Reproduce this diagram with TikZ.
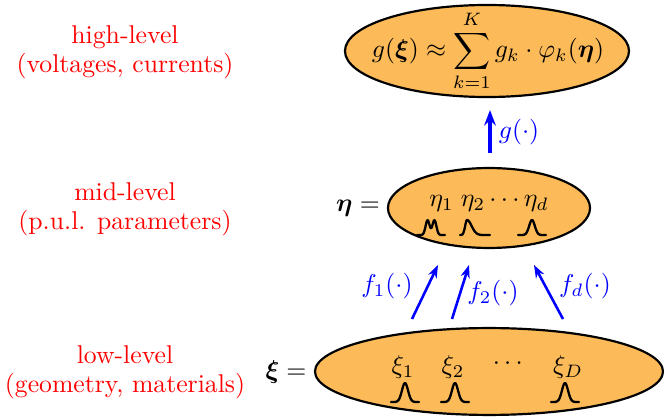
\documentclass[tikz,border=0pt]{standalone}
\usepackage{amsmath,amssymb,bm}
\usetikzlibrary{shapes.geometric,arrows.meta}
\definecolor{boxorange}{RGB}{252,186,88}
\tikzset{
  blob/.style={ellipse, draw=black, line width=0.85pt, fill=boxorange, inner sep=0pt},
  lvl/.style={text=red, align=center},
  fun/.style={draw=blue, line width=1pt, -{Stealth[length=5pt,width=3.6pt]}},
  funbig/.style={draw=blue, line width=1.7pt, -{Stealth[length=6pt,width=4.5pt]}},
  funlbl/.style={text=blue},
  bump/.style={line width=0.9pt, line join=round, line cap=round}
}
\begin{document}
\begin{tikzpicture}[x=0.389pt,y=-0.389pt,font=\fontsize{10pt}{11.3pt}\selectfont]
\useasboundingbox (0,0) rectangle (664,417);

% ellipses
\node[blob, minimum width=110.5pt, minimum height=35.8pt] (top) at (487,51) {};
\node[blob, minimum width=78.6pt, minimum height=31.1pt] (mid) at (489,208) {};
\node[blob, minimum width=135.4pt, minimum height=33.8pt] (low) at (489,371.5) {};

% formula
\node (formula) at (488,51) {$\displaystyle g(\bm{\xi}) \approx \sum_{k=1}^{K} g_k \cdot \varphi_k(\bm{\eta})$};

% mid contents
\node (etaeq) at (358,208) {$\bm{\eta} =$};
\node (etas) at (489,203) {$\eta_1\;\eta_2 \cdots \eta_d$};

% low contents
\node (xieq) at (286,372) {$\bm{\xi} =$};
\node (xi1) at (403,367) {$\xi_1$};
\node (xi2) at (453,367) {$\xi_2$};
\node (xidots) at (510,364) {$\cdots$};
\node (xiD) at (568,367) {$\xi_D$};

% bumps low
\foreach \cx in {405,455,565}{
  \draw[bump] plot[domain=-14:14, samples=45] ({\cx+\x},{402-19*exp(-(\x/4.3)^2)});
}
% bumps mid
\draw[bump] plot[domain=-14:14, samples=55] ({431+\x},{235-15*(exp(-((\x+3.4)/2.8)^2)+exp(-((\x-3.4)/2.8)^2))/1.01});
\draw[bump] plot[domain=-15:-8, samples=20] ({475+\x},{235-15*exp(-((\x+8)/2.6)^2)})
  -- plot[domain=-8:15, samples=40] ({475+\x},{235-15*exp(-((\x+8)/6.5)^2)});
\draw[bump] plot[domain=-14:14, samples=45] ({532+\x},{235-15*exp(-(\x/4)^2)});

% red level labels
\node[lvl] (hl) at (125,52) {high-level\\(voltages, currents)};
\node[lvl] (ml) at (125,209) {mid-level\\(p.u.l. parameters)};
\node[lvl] (ll) at (125,372) {low-level\\(geometry, materials)};

% arrows
\coordinate (g0) at (490,153);
\coordinate (g1) at (490,110);
\draw[funbig] (g0) -- (g1);
\node[funlbl] (glbl) at (519,132) {$g(\cdot)$};

\coordinate (f1a) at (412,319); \coordinate (f1b) at (438,265);
\coordinate (f2a) at (452,319); \coordinate (f2b) at (469,265);
\coordinate (fda) at (563,319); \coordinate (fdb) at (534,265);
\draw[fun] (f1a) -- (f1b);
\draw[fun] (f2a) -- (f2b);
\draw[fun] (fda) -- (fdb);
\node[funlbl] (f1lbl) at (387,286) {$f_1(\cdot)$};
\node[funlbl] (f2lbl) at (493,293) {$f_2(\cdot)$};
\node[funlbl] (fdlbl) at (585,286) {$f_d(\cdot)$};
\end{tikzpicture}
\end{document}
